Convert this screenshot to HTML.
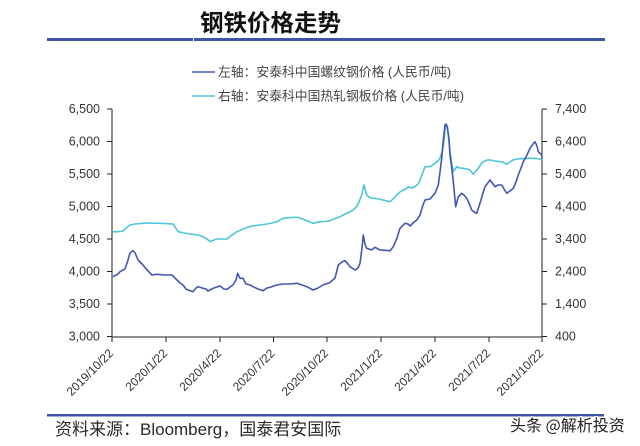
<!DOCTYPE html>
<html><head><meta charset="utf-8"><style>
html,body{margin:0;padding:0;background:#fff;}
svg{display:block;}
text{font-family:"Liberation Sans","Noto Sans CJK SC",sans-serif;}
</style></head><body>
<svg width="640" height="446" viewBox="0 0 640 446" xmlns="http://www.w3.org/2000/svg">
<rect width="640" height="446" fill="#ffffff"/>
<!-- Title -->
<text x="200" y="31" font-size="23.5" font-weight="bold" fill="#111" style="font-family:'Noto Sans CJK SC',sans-serif">钢铁价格走势</text>
<rect x="47" y="38" width="146" height="3" fill="#3b55a3"/>
<rect x="194" y="38" width="411" height="3" fill="#3b55a3"/>
<!-- Legend -->
<line x1="192" y1="72" x2="215" y2="72" stroke="#4a5fb5" stroke-width="1.5"/>
<text x="218" y="76.5" font-size="12.8" fill="#444">左轴：安泰科中国螺纹钢价格 (人民币/吨)</text>
<line x1="192" y1="96" x2="215" y2="96" stroke="#4cc6d6" stroke-width="1.5"/>
<text x="218" y="100.5" font-size="12.8" fill="#444">右轴：安泰科中国热轧钢板价格 (人民币/吨)</text>
<!-- Axes -->
<g stroke="#222" stroke-width="1" fill="none">
<line x1="112" y1="109" x2="112" y2="337"/>
<line x1="542" y1="109" x2="542" y2="337"/>
<line x1="112" y1="337" x2="542" y2="337"/>
<line x1="107" y1="109" x2="112" y2="109"/>
<line x1="107" y1="141.5" x2="112" y2="141.5"/>
<line x1="107" y1="174" x2="112" y2="174"/>
<line x1="107" y1="206.5" x2="112" y2="206.5"/>
<line x1="107" y1="239" x2="112" y2="239"/>
<line x1="107" y1="271.5" x2="112" y2="271.5"/>
<line x1="107" y1="304" x2="112" y2="304"/>
<line x1="107" y1="336.5" x2="112" y2="336.5"/>
<line x1="542" y1="109" x2="547" y2="109"/>
<line x1="542" y1="141.5" x2="547" y2="141.5"/>
<line x1="542" y1="174" x2="547" y2="174"/>
<line x1="542" y1="206.5" x2="547" y2="206.5"/>
<line x1="542" y1="239" x2="547" y2="239"/>
<line x1="542" y1="271.5" x2="547" y2="271.5"/>
<line x1="542" y1="304" x2="547" y2="304"/>
<line x1="542" y1="336.5" x2="547" y2="336.5"/>
<line x1="112" y1="337" x2="112" y2="342"/>
<line x1="166" y1="337" x2="166" y2="342"/>
<line x1="220" y1="337" x2="220" y2="342"/>
<line x1="273.5" y1="337" x2="273.5" y2="342"/>
<line x1="327" y1="337" x2="327" y2="342"/>
<line x1="381" y1="337" x2="381" y2="342"/>
<line x1="435" y1="337" x2="435" y2="342"/>
<line x1="489" y1="337" x2="489" y2="342"/>
<line x1="542" y1="337" x2="542" y2="342"/>
</g>
<!-- Left labels -->
<g font-size="12.5" fill="#333" text-anchor="end">
<text x="100" y="113">6,500</text>
<text x="100" y="145.5">6,000</text>
<text x="100" y="178">5,500</text>
<text x="100" y="210.5">5,000</text>
<text x="100" y="243">4,500</text>
<text x="100" y="275.5">4,000</text>
<text x="100" y="308">3,500</text>
<text x="100" y="340.5">3,000</text>
</g>
<!-- Right labels -->
<g font-size="12.5" fill="#333">
<text x="555" y="113">7,400</text>
<text x="555" y="145.5">6,400</text>
<text x="555" y="178">5,400</text>
<text x="555" y="210.5">4,400</text>
<text x="555" y="243">3,400</text>
<text x="555" y="275.5">2,400</text>
<text x="555" y="308">1,400</text>
<text x="555" y="340.5">400</text>
</g>
<!-- X labels -->
<g font-size="12" fill="#333" text-anchor="end">
<text transform="translate(114,354) rotate(-45)">2019/10/22</text>
<text transform="translate(168,354) rotate(-45)">2020/1/22</text>
<text transform="translate(222,354) rotate(-45)">2020/4/22</text>
<text transform="translate(275.5,354) rotate(-45)">2020/7/22</text>
<text transform="translate(329,354) rotate(-45)">2020/10/22</text>
<text transform="translate(383,354) rotate(-45)">2021/1/22</text>
<text transform="translate(437,354) rotate(-45)">2021/4/22</text>
<text transform="translate(491,354) rotate(-45)">2021/7/22</text>
<text transform="translate(544,354) rotate(-45)">2021/10/22</text>
</g>
<!-- Cyan series (right axis) -->
<polyline fill="none" stroke="#4cc6d6" stroke-width="1.6" stroke-linejoin="round" points="113,231.7 118,231.7 123,231 126,228 130,225 135,224 143,223.3 150,223 160,223.3 173,224 175,227 178,231.7 184,233 190,234 198,235 203,236.7 207,239 210,241.7 214,240 217,239 222,239 227,239 232,235 237,231.7 243,229 248,227 253,226 260,225 267,224 272,223 277,221.7 283,218.3 290,217.5 298,217.3 305,220 310,222 313,223.3 320,221.7 325,221.5 330,220.7 335,218.5 340,216.7 345,214 350,211.7 353,210 356.7,206.7 359,202 361.7,195 364,185 366.7,195 369,197 371.7,198.3 376,198.5 380,199.3 385,200.5 390,201.7 394,198 396.7,195 400,192 403.3,190 406,189 408.3,186.7 411,188 415,186.7 418,184 420,180 423,172 425,166.7 430,166.7 435,163.3 438,161 440,158.3 442,152 443.3,146.7 445,130 446,125 447.3,126.7 449,140 450,151.7 452,165 453.3,171.7 456.7,166.7 460,168 463.3,168.3 467,169 470,170 473.3,174.3 476,171 478.3,168.3 481,164 483.3,161.7 487,160 490,160 495,161 500,161.7 503,162 506.7,164.3 510,162 513,160 516.7,159 521,158.7 526.7,158.3 533.3,158.3 537,158.7 540,159 542,160"/>
<!-- Dark blue series (left axis) -->
<polyline fill="none" stroke="#4257b3" stroke-width="1.6" stroke-linejoin="round" points="113,276.7 118,274 120,271.7 123,270 125,269 128,260 130,253 132.7,250.7 135,252.7 138,260 141,263 143,265 147,270 150,273 152,275 157,274.3 165,275 172,275 177,280 180,283 183,285 186,289 188,290 193,291.7 196,288 198,286.7 203,288.3 206,289 208,291 213,288.3 217,287 220,286 224,289 227,289.3 230,287 233,285 236,280 237.7,273.3 240,278.3 243,278.3 246,284 250,285 253,286.7 258,289 263,290.7 267,288 270,287.3 277,285 283,284 290,284 297,283.3 302,285 307,286.7 313,290 318,288 323,285 330,282.5 335,278 338.3,265 342,262 345,260.7 348,264 350,266.7 355,270 358,268 360,263.3 362,248 363.3,235 365,244 366.7,248.3 371.7,250 375,247.3 380,250 390,250.7 393.3,246.7 397,238 400,228.3 405,223.3 408,224 410,226 413,223 416.7,220 420,215 423,205 425,200 430,199 435,193.3 438.3,185 440,172 441.7,158.3 443,143 445,125 446,124 447.3,126.7 449,140 450,155 452,170 453.3,181.7 455.7,206.7 458.3,196.7 461.7,193.3 464,195 466.7,198.3 469,203 471.7,210 474,212 476.7,213.3 480,203.3 483,193 485,186.7 490,180 493,184 495,186.7 498,185 501.7,185 504,189 506.7,193.3 510,191 513.3,188.3 516,182 518.3,175 521,168 523.3,161.7 527,155 530,148.3 533,144 535,141.7 537,146 538.3,151.7 541.7,155 542,158"/>
<!-- Bottom rule and source -->
<rect x="47" y="414" width="557" height="2.5" fill="#3b55a3"/>
<text x="55" y="435" font-size="17" fill="#2a2a2a">资料来源：Bloomberg，国泰君安国际</text>
<text x="510" y="431" font-size="16" fill="#222" stroke="#fff" stroke-width="2.5" paint-order="stroke" style="font-family:'Noto Sans CJK SC',sans-serif">头条 @解析投资</text>
</svg>
</body></html>
